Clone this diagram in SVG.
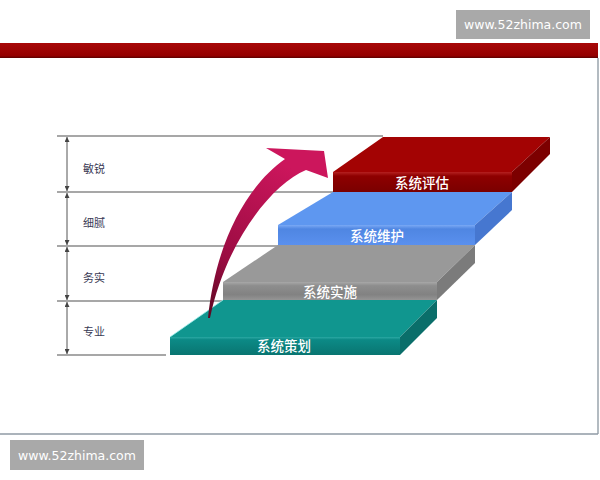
<svg xmlns="http://www.w3.org/2000/svg" width="600" height="480" viewBox="0 0 600 480">
<defs>
<style>
.scale{stroke:#8a8a8a;stroke-width:1.5;fill:none}
.dim{stroke:#555;stroke-width:1;fill:none}
.lbl{font-family:"Noto Sans CJK SC","Noto Sans",sans-serif;font-size:11px;fill:#3a3a55}
.step{font-family:"Noto Sans CJK SC","Noto Sans",sans-serif;font-size:13.5px;font-weight:500;fill:#ffffff;text-anchor:middle}
.wm{font-family:"DejaVu Sans","Noto Sans",sans-serif;font-size:12.5px;fill:#ffffff;text-anchor:middle}
</style>
<linearGradient id="bar" x1="0" y1="0" x2="0" y2="1">
<stop offset="0" stop-color="#a80808"/><stop offset="0.85" stop-color="#940000"/><stop offset="1" stop-color="#5a0000"/>
</linearGradient>
<linearGradient id="tealF" x1="0" y1="0" x2="0" y2="1">
<stop offset="0" stop-color="#2aa8a3"/><stop offset="0.15" stop-color="#0c8a86"/><stop offset="1" stop-color="#097571"/>
</linearGradient>
<linearGradient id="grayF" x1="0" y1="0" x2="0" y2="1">
<stop offset="0" stop-color="#a8a8a8"/><stop offset="0.2" stop-color="#8e8e8e"/><stop offset="0.7" stop-color="#828282"/><stop offset="1" stop-color="#959595"/>
</linearGradient>
<linearGradient id="blueF" x1="0" y1="0" x2="0" y2="1">
<stop offset="0" stop-color="#7aa9f5"/><stop offset="0.2" stop-color="#4f86e2"/><stop offset="1" stop-color="#5a90ee"/>
</linearGradient>
<linearGradient id="redF" x1="0" y1="0" x2="0" y2="1">
<stop offset="0" stop-color="#b52020"/><stop offset="0.2" stop-color="#8e0000"/><stop offset="1" stop-color="#7a0000"/>
</linearGradient>
<linearGradient id="arrowG" x1="0" y1="1" x2="0.4" y2="0">
<stop offset="0" stop-color="#5a0820"/><stop offset="0.35" stop-color="#9a0c42"/><stop offset="1" stop-color="#cc165c"/>
</linearGradient>
<marker id="ah" viewBox="0 0 6 6" refX="6" refY="3" markerWidth="5" markerHeight="5" orient="auto-start-reverse" markerUnits="userSpaceOnUse">
<path d="M0,0 L6,3 L0,6 Z" fill="#444"/>
</marker>
</defs>

<rect width="600" height="480" fill="#ffffff"/>

<g id="frame">
<rect x="0" y="43" width="598" height="15" fill="url(#bar)"/>
<line x1="598" y1="58" x2="598" y2="434" stroke="#9aa4ad" stroke-width="1.5"/>
<line x1="0" y1="434" x2="598" y2="434" stroke="#8f9aa5" stroke-width="1.5"/>
</g>

<g id="watermark-top">
<rect x="456" y="10" width="134" height="29" fill="#a9a9a9"/>
<text class="wm" x="523" y="29">www.52zhima.com</text>
</g>
<g id="watermark-bottom">
<rect x="10" y="440" width="134" height="30" fill="#a9a9a9"/>
<text class="wm" x="77" y="460">www.52zhima.com</text>
</g>

<g id="scale">
<line class="scale" x1="57" y1="136" x2="383" y2="136"/>
<line class="scale" x1="57" y1="192" x2="333" y2="192"/>
<line class="scale" x1="57" y1="246" x2="278" y2="246"/>
<line class="scale" x1="57" y1="301" x2="223" y2="301"/>
<line class="scale" x1="57" y1="355" x2="166" y2="355"/>
</g>

<g id="connectors">
<line class="dim" x1="67" y1="137" x2="67" y2="191" marker-start="url(#ah)" marker-end="url(#ah)"/>
<line class="dim" x1="67" y1="193" x2="67" y2="245" marker-start="url(#ah)" marker-end="url(#ah)"/>
<line class="dim" x1="67" y1="247" x2="67" y2="300" marker-start="url(#ah)" marker-end="url(#ah)"/>
<line class="dim" x1="67" y1="302" x2="67" y2="354" marker-start="url(#ah)" marker-end="url(#ah)"/>
</g>

<g id="label-minrui"><text class="lbl" x="83" y="173">敏锐</text></g>
<g id="label-xini"><text class="lbl" x="83" y="227">细腻</text></g>
<g id="label-wushi"><text class="lbl" x="83" y="282">务实</text></g>
<g id="label-zhuanye"><text class="lbl" x="83" y="336">专业</text></g>

<g id="step-cehua">
<polygon points="170,337 400,337 437,300 223,300" fill="#10968f"/>
<polyline points="170,337 223,300" stroke="#9ff0ee" stroke-width="1" fill="none" opacity="0.8"/>
<polygon points="400,337 437,300 437,318 400,355" fill="#0a6e6a"/>
<rect x="170" y="337" width="230" height="18" fill="url(#tealF)"/>
<text class="step" x="284" y="351">系统策划</text>
</g>

<g id="step-shishi">
<polygon points="223,282 437,282 475,245 278,245" fill="#999999"/>
<polygon points="437,282 475,245 475,263 437,300" fill="#7b7b7b"/>
<rect x="223" y="282" width="214" height="18" fill="url(#grayF)"/>
<text class="step" x="330" y="297">系统实施</text>
</g>

<g id="step-weihu">
<polygon points="278,225 475,225 512,192 333,192" fill="#5e97f0"/>
<polygon points="475,225 512,192 512,210 475,245" fill="#4677d0"/>
<rect x="278" y="225" width="197" height="20" fill="url(#blueF)"/>
<text class="step" x="377" y="241">系统维护</text>
</g>

<g id="step-pinggu">
<polygon points="333,172 512,172 550,137 383,137" fill="#a30303"/>
<polygon points="512,172 550,137 550,154 512,192" fill="#7c0000"/>
<rect x="333" y="172" width="179" height="20" fill="url(#redF)"/>
<text class="step" x="422" y="188">系统评估</text>
</g>

<g id="arrow">
<path d="M208,318 C216,240 248,185 285,159 L266,148 L324,151 L328,178 L306,170 C270,185 225,245 210,318 Z" fill="url(#arrowG)"/>
</g>
</svg>
